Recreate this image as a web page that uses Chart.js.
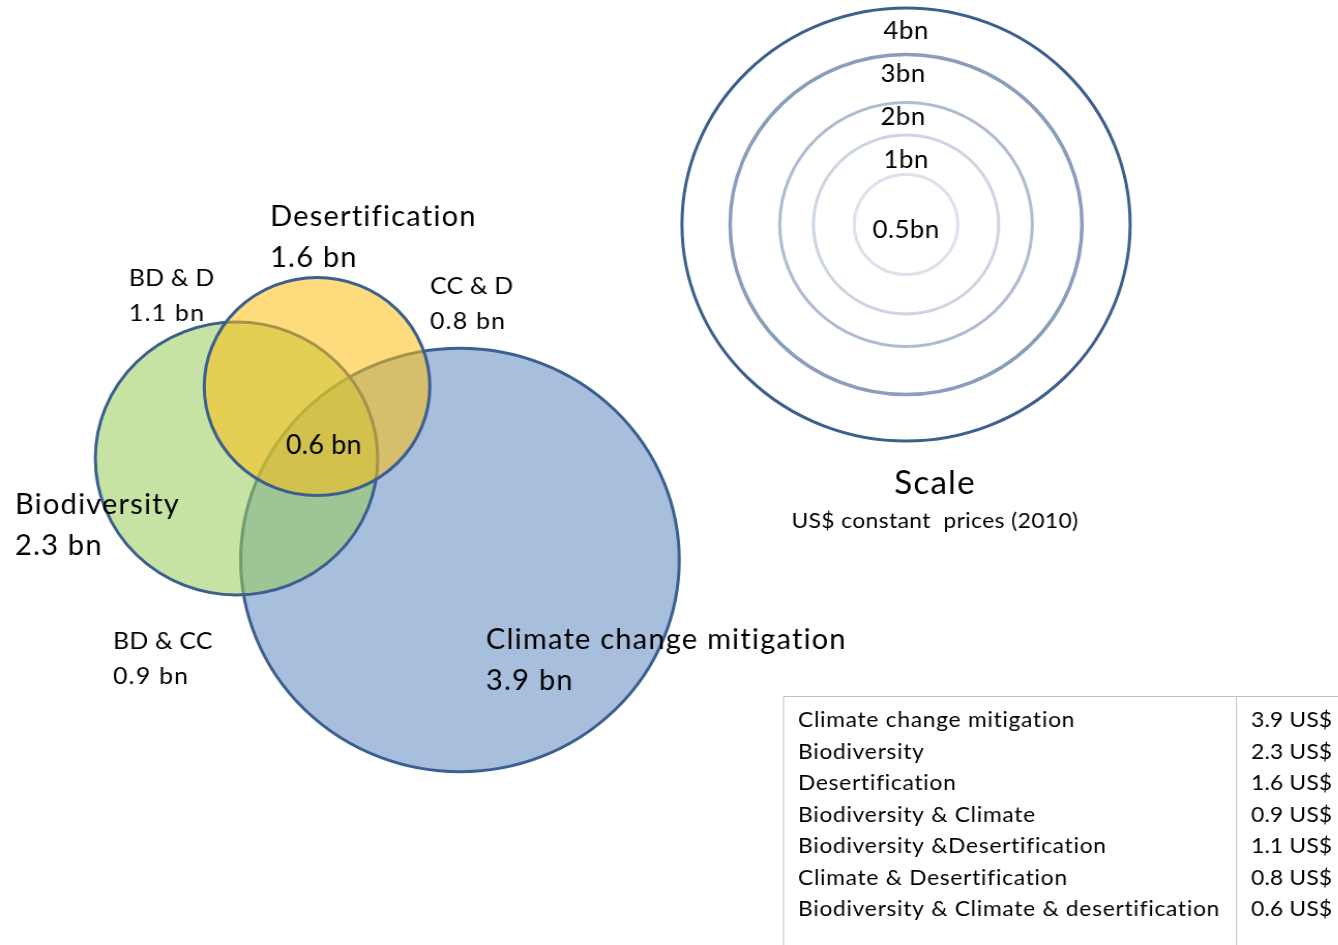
<!DOCTYPE html>
<html>
<head>
<meta charset="utf-8">
<title>Funding by focal area</title>
<script src="https://cdn.jsdelivr.net/npm/chart.js@4.4.1/dist/chart.umd.min.js"></script>
<style>
  html, body { margin: 0; padding: 0; background: #fff; overflow: hidden; }
  #wrap { width: 1293px; height: 945px; transform: scaleX(1.035); transform-origin: 0 0; }
</style>
</head>
<body>
<div id="wrap"><canvas id="venn" width="1293" height="945"></canvas></div>
<script>
// focal areas, US$ bn (constant 2010 prices)
var areaNames = ['Climate change mitigation', 'Biodiversity', 'Desertification'];
var areaValues = [3.9, 2.3, 1.6];

// pairwise overlaps, then the part shared by all three
var overlapNames = ['BD & CC', 'BD & D', 'CC & D'];
var overlapValues = [0.9, 1.1, 0.8];
var tripleValue = 0.6;

// summary table rows
var tableLabels = ['Climate change mitigation', 'Biodiversity', 'Desertification',
    'Biodiversity & Climate', 'Biodiversity &Desertification', 'Climate & Desertification',
    'Biodiversity & Climate & desertification'];
var tableValues = areaValues.concat(overlapValues, [tripleValue]);

// size key rings
var keyValues = [4, 3, 2, 1, 0.5];
var keyLabels = ['4bn', '3bn', '2bn', '1bn', '0.5bn'];

// ring radius (px) at each key step, straight lines in between
var ringStops = [[0.5, 50], [1, 89.5], [2, 122], [3, 170], [4, 216.5]];
function radiusFor(v) {
    for (var i = 1; i < ringStops.length; i++) {
        var a = ringStops[i - 1], b = ringStops[i];
        if (v <= b[0] || i == ringStops.length - 1) {
            return a[1] + (v - a[0]) * (b[1] - a[1]) / (b[0] - a[0]);
        }
    }
}

// where things sit, in axis units (x 0..1293, y 0..945 downwards)
var layout = {
    centers: [[444.4, 560], [228.5, 458.5], [306.3, 386.5]],
    areaText: [[469.6, 640], [14.5, 505], [260.9, 217]],
    overlapText: [[109.2, 641], [124.6, 278], [415.5, 286]],
    tripleText: [276.3, 446],
    key: [875.4, 224.5],
    keyText: [[875.4, 31], [872.5, 74], [872.5, 117], [875.4, 160], [875.4, 230]],
    keyTitle: [903.4, 484],
    keyNote: [903.4, 521],
    table: { left: 756.5, top: 696, divider: 1194.2, textX: 771, valueX: 1208.7, firstRow: 720, rowStep: 31.5 }
};

var fills = ['#a7bedc', 'rgba(151, 204, 90, 0.55)', 'rgba(253, 190, 17, 0.55)'];
var outline = '#3b5f8f';
var ringColors = ['#3d5f8e', '#8a9dbb', '#aebcd0', '#ccd5e1', '#dce2eb'];
var FONT = 'Lato, Carlito, Calibri, sans-serif';

function areaSet(i, order) {
    return {
        label: areaNames[i],
        data: [{ x: layout.centers[i][0], y: layout.centers[i][1], r: radiusFor(areaValues[i]) }],
        backgroundColor: fills[i],
        borderColor: outline,
        borderWidth: 3,
        order: order
    };
}

var textPlugin = {
    id: 'vennText',
    afterDatasetsDraw: function(chart) {
        var ctx = chart.ctx, xs = chart.scales.x, ys = chart.scales.y;
        function put(str, pos, size, spacing, align) {
            ctx.font = size + 'px ' + FONT;
            ctx.letterSpacing = (spacing || 0) + 'px';
            ctx.textAlign = align || 'left';
            ctx.textBaseline = 'middle';
            ctx.fillStyle = '#000';
            ctx.fillText(str, xs.getPixelForValue(pos[0]), ys.getPixelForValue(pos[1]));
        }
        ctx.save();
        for (var i = 0; i < areaNames.length; i++) {
            var p = layout.areaText[i];
            put(areaNames[i], p, 28, 1.2);
            put(areaValues[i].toFixed(1) + ' bn', [p[0], p[1] + 41], 28, 1.2);
        }
        for (var j = 0; j < overlapNames.length; j++) {
            var q = layout.overlapText[j];
            put(overlapNames[j], q, 24, 0.2);
            put(overlapValues[j].toFixed(1) + ' bn', [q[0], q[1] + 35], 24, 1.2);
        }
        put(tripleValue.toFixed(1) + ' bn', layout.tripleText, 26, 0.2);

        for (var k = 0; k < keyLabels.length; k++) {
            put(keyLabels[k], layout.keyText[k], 25, 0.4, 'center');
        }
        put('Scale', layout.keyTitle, 32, 1.2, 'center');
        put('US$ constant  prices (2010)', layout.keyNote, 22, 0.4, 'center');

        // table box, open to the right and bottom
        var t = layout.table;
        var left = xs.getPixelForValue(t.left), top = ys.getPixelForValue(t.top);
        var div = xs.getPixelForValue(t.divider);
        ctx.strokeStyle = '#bfbfbf';
        ctx.lineWidth = 1;
        ctx.beginPath();
        ctx.moveTo(chart.width, top + 0.5);
        ctx.lineTo(left + 0.5, top + 0.5);
        ctx.lineTo(left + 0.5, chart.height);
        ctx.moveTo(div + 0.5, top);
        ctx.lineTo(div + 0.5, chart.height);
        ctx.stroke();
        for (var r = 0; r < tableLabels.length; r++) {
            var y = t.firstRow + r * t.rowStep;
            put(tableLabels[r], [t.textX, y], 22, 0.7);
            put(tableValues[r].toFixed(1) + ' US$', [t.valueX, y], 22, 0.2);
        }
        ctx.restore();
    }
};

var ctx = document.getElementById('venn').getContext('2d');
var chart = new Chart(ctx, {
    type: 'bubble',
    data: {
        datasets: [
            areaSet(2, 0),
            areaSet(1, 1),
            areaSet(0, 2),
            {
                label: 'Scale',
                data: keyValues.map(function(v) {
                    return { x: layout.key[0], y: layout.key[1], r: radiusFor(v) };
                }),
                backgroundColor: 'rgba(0, 0, 0, 0)',
                borderColor: ringColors,
                borderWidth: [3, 3.5, 3, 3, 3],
                order: 3
            }
        ]
    },
    options: {
        responsive: false,
        animation: false,
        devicePixelRatio: 1,
        events: [],
        layout: { padding: 0, autoPadding: false },
        plugins: { legend: { display: false }, tooltip: { enabled: false } },
        scales: {
            x: { type: 'linear', display: false, min: 0, max: 1293 },
            y: { type: 'linear', display: false, min: 0, max: 945, reverse: true }
        }
    },
    plugins: [textPlugin]
});
</script>
</body>
</html>
